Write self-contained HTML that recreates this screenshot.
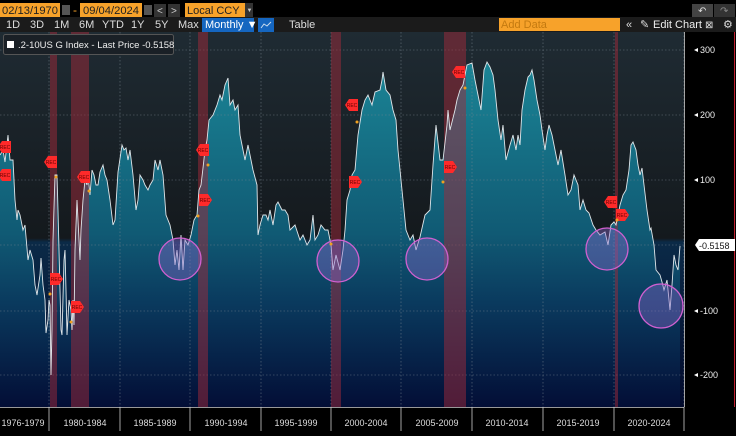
<!DOCTYPE html>
<html><head><meta charset="utf-8"><style>
body{margin:0;background:#000;width:736px;height:431px;overflow:hidden;font-family:"Liberation Sans",sans-serif}
svg text{font-family:"Liberation Sans",sans-serif}
</style></head><body>
<svg width="736" height="431" viewBox="0 0 736 431" xmlns="http://www.w3.org/2000/svg">
<defs>
<linearGradient id="bg" x1="0" y1="32" x2="0" y2="407" gradientUnits="userSpaceOnUse">
<stop offset="0" stop-color="#1f2b33"/><stop offset="0.55" stop-color="#14191d"/>
<stop offset="0.56" stop-color="#0b2a47"/><stop offset="1" stop-color="#020a2c"/>
</linearGradient>
<linearGradient id="ar" x1="0" y1="60" x2="0" y2="407" gradientUnits="userSpaceOnUse">
<stop offset="0" stop-color="#1b8596"/><stop offset="0.5" stop-color="#105a74"/>
<stop offset="0.7" stop-color="#0a3a5e"/><stop offset="1" stop-color="#030e36"/>
</linearGradient>
<g id="recL"><polygon points="-7,0 -3,-6 6,-6 6,6 -3,6" fill="#ff2a2a"/><text x="0" y="2" font-size="5" fill="#600" text-anchor="middle">REC</text></g>
<g id="recR"><polygon points="7,0 3,-6 -6,-6 -6,6 3,6" fill="#ff2a2a"/><text x="0" y="2" font-size="5" fill="#600" text-anchor="middle">REC</text></g>
</defs>
<rect x="0" y="0" width="736" height="17" fill="#000"/>
<rect x="0" y="17" width="736" height="15" fill="#1b1b1b"/>
<rect x="0" y="3" width="60" height="14" fill="#f7a22a"/>
<text x="2" y="14" font-size="11" fill="#222" textLength="56" lengthAdjust="spacingAndGlyphs">02/13/1970</text>
<rect x="62" y="5" width="8" height="10" fill="#555"/>
<text x="73" y="14" font-size="12" fill="#f7a22a">-</text>
<rect x="80" y="3" width="62" height="14" fill="#f7a22a"/>
<text x="83" y="14" font-size="11" fill="#222" textLength="56" lengthAdjust="spacingAndGlyphs">09/04/2024</text>
<rect x="144" y="5" width="8" height="10" fill="#555"/>
<rect x="154" y="4" width="12" height="13" fill="#333"/><text x="157" y="14" font-size="10" fill="#ccc">&lt;</text>
<rect x="168" y="4" width="12" height="13" fill="#333"/><text x="171" y="14" font-size="10" fill="#ccc">&gt;</text>
<rect x="185" y="3" width="60" height="14" fill="#f7a22a"/>
<text x="187" y="14" font-size="11" fill="#222">Local CCY</text>
<rect x="245" y="3" width="8" height="14" fill="#333"/><text x="246.5" y="12" font-size="6" fill="#ccc">▼</text>
<rect x="692" y="4" width="21" height="13" fill="#444"/><rect x="714" y="4" width="21" height="13" fill="#333"/>
<text x="698" y="14" font-size="10" fill="#ddd">↶</text><text x="720" y="14" font-size="10" fill="#888">↷</text>
<g font-size="11" fill="#ddd">
<text x="6" y="28">1D</text><text x="30" y="28">3D</text><text x="54" y="28">1M</text><text x="79" y="28">6M</text>
<text x="102" y="28">YTD</text><text x="131" y="28">1Y</text><text x="155" y="28">5Y</text><text x="178" y="28">Max</text>
</g>
<rect x="202" y="18" width="52" height="14" fill="#1566c0"/>
<text x="205" y="28" font-size="11" fill="#fff">Monthly ▼</text>
<rect x="258" y="18" width="16" height="14" fill="#1566c0"/>
<polyline points="261,28 264,24 267,26 271,22" fill="none" stroke="#cde" stroke-width="1"/>
<text x="289" y="28" font-size="11" fill="#ddd">Table</text>
<rect x="499" y="18" width="121" height="13" fill="#f7a22a"/>
<text x="501" y="28" font-size="11" fill="#c47a10">Add Data</text>
<text x="626" y="28" font-size="11" fill="#ddd">«</text>
<text x="640" y="28" font-size="11" fill="#ddd">✎</text>
<text x="653" y="28" font-size="11" fill="#eee">Edit Chart</text>
<text x="705" y="28" font-size="10" fill="#ddd">⊠</text><text x="723" y="28" font-size="11" fill="#ddd">⚙</text>
<rect x="0" y="32" width="684" height="375" fill="url(#bg)"/>
<polygon fill="url(#ar)" points="0,407 0,155 3,150 5,162 8,135 10,160 13,160 15,200 17,220 18,210 20,215 23,230 25,225 28,260 30,250 33,260 35,285 37,295 40,275 41,258 43,285 45,300 46,333 48,320 49,300 50,305 51,375 52,330 53,240 55,175 57,175 58,210 60,290 61,330 62,335 64,260 65,250 66,290 67,335 69,300 71,310 72,330 73,300 74,325 75,250 77,200 79,240 80,260 81,230 83,200 85,180 87,185 88,175 90,195 92,170 94,175 96,185 98,185 100,172 103,165 105,175 107,180 110,200 113,225 115,220 118,172 122,145 124,150 126,148 128,160 130,150 133,175 136,210 138,200 140,175 143,180 145,185 148,190 150,185 153,180 155,160 158,170 160,160 163,175 166,215 170,225 173,240 175,265 177,250 179,270 181,235 183,270 185,240 188,245 191,235 194,220 197,215 199,190 201,185 203,168 205,150 207,140 209,120 213,115 217,105 220,95 222,100 225,85 228,78 230,105 233,100 235,110 238,105 240,135 243,150 245,160 248,145 250,155 253,170 257,185 258,235 260,225 263,215 266,215 268,220 270,210 273,225 276,205 278,202 282,210 285,210 288,215 290,230 295,225 300,240 303,235 307,245 310,240 313,215 315,240 318,235 321,225 325,230 328,230 331,245 333,270 336,255 340,270 343,250 345,230 347,200 350,190 352,175 355,170 358,135 362,110 365,100 368,95 372,105 375,92 380,90 382,80 383,72 386,90 390,95 393,110 396,120 398,150 401,180 403,200 406,230 410,240 413,235 416,250 420,237 425,215 430,210 433,165 436,125 440,160 443,160 447,125 448,110 450,130 455,110 457,100 460,90 463,85 467,65 472,63 475,80 478,95 481,110 484,70 487,62 490,67 493,75 495,90 498,120 501,140 503,125 506,160 510,145 513,135 516,150 518,135 520,145 522,110 525,90 528,77 530,75 532,70 534,80 537,100 540,115 542,130 545,150 547,135 549,125 552,135 555,150 558,165 561,150 565,175 568,195 571,190 574,175 578,185 580,210 583,200 586,210 589,213 593,225 596,230 600,235 605,232 608,245 611,225 614,222 616,225 620,205 623,195 626,190 629,170 631,145 633,142 636,150 638,165 640,175 642,168 644,185 647,210 650,230 651,228 654,245 656,270 660,275 662,282 664,290 667,280 670,310 672,285 674,255 676,265 678,270 680,246 680,407"/>
<g stroke="#7a8690" stroke-width="0.6" stroke-dasharray="1.5,2" opacity="0.8">
<line x1="0" y1="50" x2="684" y2="50"/><line x1="0" y1="115" x2="684" y2="115"/><line x1="0" y1="180" x2="684" y2="180"/>
<line x1="0" y1="245" x2="684" y2="245"/><line x1="0" y1="311" x2="684" y2="311"/><line x1="0" y1="375" x2="684" y2="375"/>
<line x1="49" y1="32" x2="49" y2="407"/><line x1="120" y1="32" x2="120" y2="407"/><line x1="190" y1="32" x2="190" y2="407"/>
<line x1="261" y1="32" x2="261" y2="407"/><line x1="331" y1="32" x2="331" y2="407"/><line x1="401" y1="32" x2="401" y2="407"/>
<line x1="472" y1="32" x2="472" y2="407"/><line x1="543" y1="32" x2="543" y2="407"/><line x1="614" y1="32" x2="614" y2="407"/>
<line x1="684" y1="32" x2="684" y2="407"/>
</g>
<g fill="#a02a3a" opacity="0.5">
<rect x="50" y="32" width="7" height="375"/><rect x="71" y="32" width="18" height="375"/>
<rect x="198" y="32" width="10" height="375"/><rect x="331" y="32" width="10" height="375"/>
<rect x="444" y="32" width="22" height="375"/><rect x="615" y="32" width="3" height="375"/>
</g>
<polyline fill="none" stroke="#dfe6ea" stroke-width="0.9" points="0,155 3,150 5,162 8,135 10,160 13,160 15,200 17,220 18,210 20,215 23,230 25,225 28,260 30,250 33,260 35,285 37,295 40,275 41,258 43,285 45,300 46,333 48,320 49,300 50,305 51,375 52,330 53,240 55,175 57,175 58,210 60,290 61,330 62,335 64,260 65,250 66,290 67,335 69,300 71,310 72,330 73,300 74,325 75,250 77,200 79,240 80,260 81,230 83,200 85,180 87,185 88,175 90,195 92,170 94,175 96,185 98,185 100,172 103,165 105,175 107,180 110,200 113,225 115,220 118,172 122,145 124,150 126,148 128,160 130,150 133,175 136,210 138,200 140,175 143,180 145,185 148,190 150,185 153,180 155,160 158,170 160,160 163,175 166,215 170,225 173,240 175,265 177,250 179,270 181,235 183,270 185,240 188,245 191,235 194,220 197,215 199,190 201,185 203,168 205,150 207,140 209,120 213,115 217,105 220,95 222,100 225,85 228,78 230,105 233,100 235,110 238,105 240,135 243,150 245,160 248,145 250,155 253,170 257,185 258,235 260,225 263,215 266,215 268,220 270,210 273,225 276,205 278,202 282,210 285,210 288,215 290,230 295,225 300,240 303,235 307,245 310,240 313,215 315,240 318,235 321,225 325,230 328,230 331,245 333,270 336,255 340,270 343,250 345,230 347,200 350,190 352,175 355,170 358,135 362,110 365,100 368,95 372,105 375,92 380,90 382,80 383,72 386,90 390,95 393,110 396,120 398,150 401,180 403,200 406,230 410,240 413,235 416,250 420,237 425,215 430,210 433,165 436,125 440,160 443,160 447,125 448,110 450,130 455,110 457,100 460,90 463,85 467,65 472,63 475,80 478,95 481,110 484,70 487,62 490,67 493,75 495,90 498,120 501,140 503,125 506,160 510,145 513,135 516,150 518,135 520,145 522,110 525,90 528,77 530,75 532,70 534,80 537,100 540,115 542,130 545,150 547,135 549,125 552,135 555,150 558,165 561,150 565,175 568,195 571,190 574,175 578,185 580,210 583,200 586,210 589,213 593,225 596,230 600,235 605,232 608,245 611,225 614,222 616,225 620,205 623,195 626,190 629,170 631,145 633,142 636,150 638,165 640,175 642,168 644,185 647,210 650,230 651,228 654,245 656,270 660,275 662,282 664,290 667,280 670,310 672,285 674,255 676,265 678,270 680,246"/>
<g fill="#8a6acc" fill-opacity="0.4" stroke="#d060d0" stroke-width="1.3">
<circle cx="180" cy="259" r="21"/><circle cx="338" cy="261" r="21"/><circle cx="427" cy="259" r="21"/>
<circle cx="607" cy="249" r="21"/><circle cx="661" cy="306" r="22"/>
</g>
<use href="#recL" x="5" y="147"/><use href="#recL" x="5" y="175"/><use href="#recL" x="51" y="162"/>
<use href="#recR" x="56" y="279"/><use href="#recR" x="77" y="307"/><use href="#recL" x="84" y="177"/>
<use href="#recL" x="203" y="150"/><use href="#recR" x="205" y="200"/><use href="#recL" x="352" y="105"/>
<use href="#recR" x="355" y="182"/><use href="#recL" x="459" y="72"/><use href="#recR" x="450" y="167"/>
<use href="#recL" x="611" y="202"/><use href="#recR" x="622" y="215"/>
<g fill="#f0a020"><circle cx="56" cy="177" r="1.5"/><circle cx="50" cy="294" r="1.5"/><circle cx="71" cy="322" r="1.5"/><circle cx="89" cy="191" r="1.5"/><circle cx="198" cy="216" r="1.5"/><circle cx="208" cy="165" r="1.5"/><circle cx="331" cy="244" r="1.5"/><circle cx="357" cy="122" r="1.5"/><circle cx="443" cy="182" r="1.5"/><circle cx="465" cy="88" r="1.5"/><circle cx="617" cy="220" r="1.5"/></g>
<rect x="3.5" y="34.5" width="170" height="20" rx="2" fill="#1a2026" stroke="#555"/>
<rect x="7" y="41" width="7" height="7" fill="#fff"/>
<text x="18" y="48" font-size="9.5" fill="#eee">.2-10US G Index - Last Price -0.5158</text>
<rect x="685" y="32" width="51" height="399" fill="#000"/>
<line x1="734.5" y1="32" x2="734.5" y2="407" stroke="#c02030" stroke-width="1"/>
<line x1="684.5" y1="32" x2="684.5" y2="407" stroke="#ccc" stroke-width="0.8"/>
<g font-size="9" fill="#eee">
<text x="700" y="53">300</text><text x="700" y="118">200</text><text x="700" y="183">100</text>
<text x="700" y="314">-100</text><text x="700" y="378">-200</text>
</g>
<g fill="#fff"><polygon points="694,50 698,48 698,52"/><polygon points="694,115 698,113 698,117"/><polygon points="694,180 698,178 698,182"/><polygon points="694,311 698,309 698,313"/><polygon points="694,375 698,373 698,377"/></g>
<polygon points="695,245 699,239 735,239 735,251 699,251" fill="#fff"/>
<text x="699" y="249" font-size="9" fill="#111">-0.5158</text>
<line x1="0" y1="407.5" x2="684" y2="407.5" stroke="#ccc" stroke-width="0.8"/>
<g stroke="#ccc" stroke-width="0.8">
<line x1="49" y1="407" x2="49" y2="431"/><line x1="120" y1="407" x2="120" y2="431"/><line x1="190" y1="407" x2="190" y2="431"/><line x1="261" y1="407" x2="261" y2="431"/><line x1="331" y1="407" x2="331" y2="431"/><line x1="401" y1="407" x2="401" y2="431"/><line x1="472" y1="407" x2="472" y2="431"/><line x1="543" y1="407" x2="543" y2="431"/><line x1="614" y1="407" x2="614" y2="431"/><line x1="684" y1="407" x2="684" y2="431"/>
</g>
<g font-size="9" fill="#ddd" text-anchor="middle">
<text x="23" y="426">1976-1979</text><text x="85" y="426">1980-1984</text><text x="155" y="426">1985-1989</text>
<text x="226" y="426">1990-1994</text><text x="296" y="426">1995-1999</text><text x="366" y="426">2000-2004</text>
<text x="437" y="426">2005-2009</text><text x="507" y="426">2010-2014</text><text x="578" y="426">2015-2019</text>
<text x="649" y="426">2020-2024</text>
</g>
</svg>
</body></html>
